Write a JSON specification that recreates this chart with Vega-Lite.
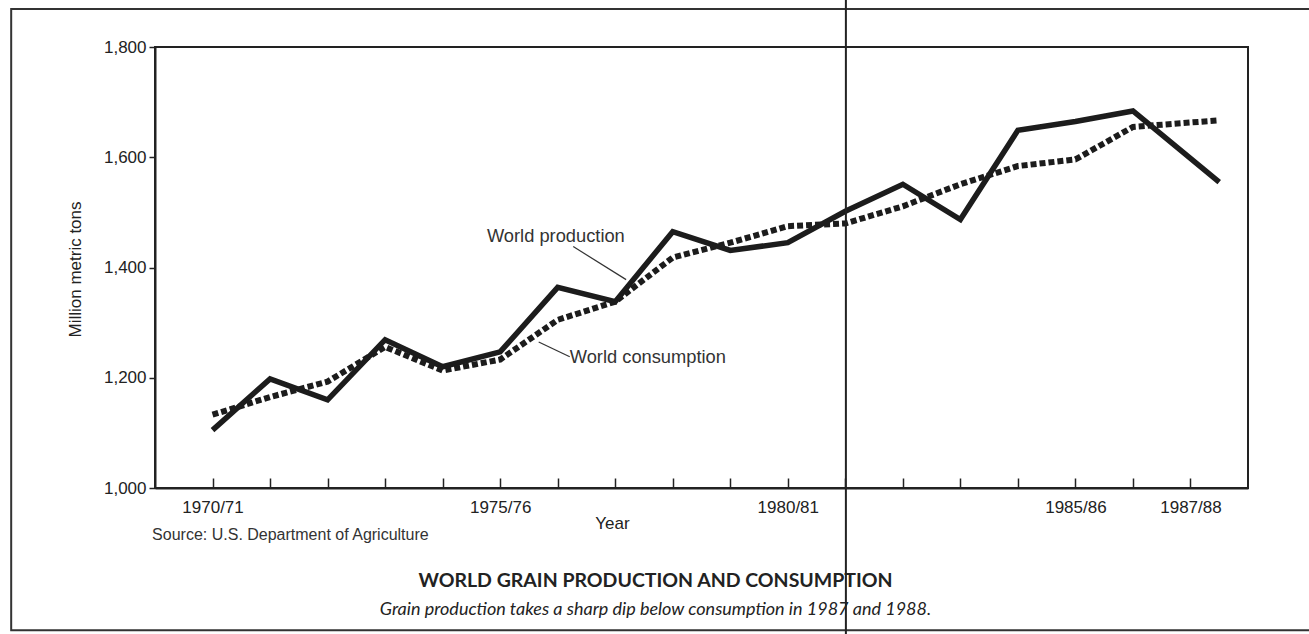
{
  "$schema": "https://vega.github.io/schema/vega-lite/v6.json",
  "width": 1093,
  "height": 441,
  "autosize": {"type": "none"},
  "padding": {"left": 155, "top": 47, "right": 61, "bottom": 146},
  "background": "white",
  "config": {
    "view": {"stroke": "#222", "strokeWidth": 2},
    "font": "Liberation Sans"
  },
  "title": {
    "text": "WORLD GRAIN PRODUCTION AND CONSUMPTION",
    "subtitle": "Grain production takes a sharp dip below consumption in 1987 and 1988.",
    "orient": "bottom",
    "anchor": "middle",
    "dx": -46,
    "offset": -63,
    "font": "Lato",
    "fontSize": 19.5,
    "fontWeight": "bold",
    "color": "#222",
    "subtitleFont": "Lato",
    "subtitleFontSize": 18,
    "subtitleFontStyle": "italic",
    "subtitleColor": "#222",
    "subtitlePadding": 9
  },
  "datasets": {
    "grain": [
      {"year": 1970, "value": 1105, "series": "World production"},
      {"year": 1971, "value": 1198, "series": "World production"},
      {"year": 1972, "value": 1160, "series": "World production"},
      {"year": 1973, "value": 1269, "series": "World production"},
      {"year": 1974, "value": 1220, "series": "World production"},
      {"year": 1975, "value": 1247, "series": "World production"},
      {"year": 1976, "value": 1364, "series": "World production"},
      {"year": 1977, "value": 1338, "series": "World production"},
      {"year": 1978, "value": 1465, "series": "World production"},
      {"year": 1979, "value": 1431, "series": "World production"},
      {"year": 1980, "value": 1445, "series": "World production"},
      {"year": 1981, "value": 1502, "series": "World production"},
      {"year": 1982, "value": 1551, "series": "World production"},
      {"year": 1983, "value": 1487, "series": "World production"},
      {"year": 1984, "value": 1649, "series": "World production"},
      {"year": 1985, "value": 1665, "series": "World production"},
      {"year": 1986, "value": 1684, "series": "World production"},
      {"year": 1987.5, "value": 1555, "series": "World production"},
      {"year": 1970, "value": 1133, "series": "World consumption"},
      {"year": 1971, "value": 1165, "series": "World consumption"},
      {"year": 1972, "value": 1193, "series": "World consumption"},
      {"year": 1973, "value": 1256, "series": "World consumption"},
      {"year": 1974, "value": 1213, "series": "World consumption"},
      {"year": 1975, "value": 1233, "series": "World consumption"},
      {"year": 1976, "value": 1305, "series": "World consumption"},
      {"year": 1977, "value": 1338, "series": "World consumption"},
      {"year": 1978, "value": 1418, "series": "World consumption"},
      {"year": 1979, "value": 1445, "series": "World consumption"},
      {"year": 1980, "value": 1475, "series": "World consumption"},
      {"year": 1981, "value": 1480, "series": "World consumption"},
      {"year": 1982, "value": 1511, "series": "World consumption"},
      {"year": 1983, "value": 1551, "series": "World consumption"},
      {"year": 1984, "value": 1584, "series": "World consumption"},
      {"year": 1985, "value": 1596, "series": "World consumption"},
      {"year": 1986, "value": 1655, "series": "World consumption"},
      {"year": 1987.5, "value": 1667, "series": "World consumption"}
    ],
    "one": [{"n": 1}]
  },
  "layer": [
    {
      "data": {"name": "grain"},
      "transform": [{"filter": "datum.series === 'World production'"}],
      "mark": {"type": "line", "color": "#1c1c1c", "strokeWidth": 5.5, "strokeJoin": "miter", "strokeCap": "butt"},
      "encoding": {
        "x": {
          "field": "year",
          "type": "quantitative",
          "scale": {"domain": [1969, 1988], "nice": false, "zero": false},
          "axis": {
            "values": [1970, 1971, 1972, 1973, 1974, 1975, 1976, 1977, 1978, 1979, 1980, 1981, 1982, 1983, 1984, 1985, 1986, 1987],
            "labelExpr": "indexof([1970, 1975, 1980, 1985, 1987], datum.value) >= 0 ? toString(datum.value) + '/' + slice(toString(datum.value + 1), 2) : ''",
            "grid": false,
            "tickSize": -10,
            "tickColor": "#222",
            "tickWidth": 1.5,
            "domainColor": "#222",
            "domainWidth": 2,
            "labelFontSize": 17,
            "labelColor": "#222",
            "labelPadding": 21,
            "labelFlush": false,
            "labelOverlap": false,
            "title": "Year",
            "titleFontSize": 17,
            "titleFontWeight": "normal",
            "titleColor": "#222",
            "titleX": 457,
            "titleY": 35,
            "titleAlign": "center",
            "titleBaseline": "middle"
          }
        },
        "y": {
          "field": "value",
          "type": "quantitative",
          "scale": {"domain": [1000, 1800], "nice": false, "zero": false},
          "axis": {
            "values": [1000, 1200, 1400, 1600, 1800],
            "format": ",d",
            "grid": false,
            "tickSize": 6,
            "tickColor": "#222",
            "tickWidth": 1.5,
            "domainColor": "#222",
            "domainWidth": 2,
            "labelFontSize": 17,
            "labelColor": "#222",
            "labelPadding": 3,
            "title": "Million metric tons",
            "titleFontSize": 17,
            "titleFontWeight": "normal",
            "titleColor": "#222",
            "titleX": -80,
            "titleY": 222,
            "titleAlign": "center",
            "titleBaseline": "middle"
          }
        }
      }
    },
    {
      "data": {"name": "grain"},
      "transform": [{"filter": "datum.series === 'World consumption'"}],
      "mark": {"type": "line", "color": "#1c1c1c", "strokeWidth": 6, "strokeDash": [6, 3], "strokeCap": "butt"},
      "encoding": {
        "x": {"field": "year", "type": "quantitative"},
        "y": {"field": "value", "type": "quantitative"}
      }
    },
    {
      "data": {"name": "one"},
      "mark": {"type": "text", "align": "left", "baseline": "middle", "fontSize": 18.3, "color": "#333", "font": "Liberation Sans"},
      "encoding": {
        "x": {"datum": 1974.77, "type": "quantitative"},
        "y": {"datum": 1456, "type": "quantitative"},
        "text": {"value": "World production"}
      }
    },
    {
      "data": {"name": "one"},
      "mark": {"type": "text", "align": "left", "baseline": "middle", "fontSize": 18.3, "color": "#333", "font": "Liberation Sans"},
      "encoding": {
        "x": {"datum": 1976.21, "type": "quantitative"},
        "y": {"datum": 1236, "type": "quantitative"},
        "text": {"value": "World consumption"}
      }
    },
    {
      "data": {"name": "one"},
      "mark": {"type": "rule", "color": "#333", "strokeWidth": 1.2},
      "encoding": {
        "x": {"datum": 1976.27, "type": "quantitative"},
        "x2": {"datum": 1977.19},
        "y": {"datum": 1438, "type": "quantitative"},
        "y2": {"datum": 1378}
      }
    },
    {
      "data": {"name": "one"},
      "mark": {"type": "rule", "color": "#333", "strokeWidth": 1.2},
      "encoding": {
        "x": {"datum": 1975.67, "type": "quantitative"},
        "x2": {"datum": 1976.21},
        "y": {"datum": 1265, "type": "quantitative"},
        "y2": {"datum": 1238}
      }
    },
    {
      "data": {"name": "one"},
      "mark": {"type": "text", "align": "left", "baseline": "middle", "fontSize": 16, "color": "#333", "font": "Liberation Sans"},
      "encoding": {
        "x": {"datum": 1968.95, "type": "quantitative"},
        "y": {"datum": 915, "type": "quantitative"},
        "text": {"value": "Source: U.S. Department of Agriculture"}
      }
    },
    {
      "data": {"name": "one"},
      "mark": {"type": "rect", "filled": false, "stroke": "#333", "strokeWidth": 2},
      "encoding": {
        "x": {"datum": 1966.5, "type": "quantitative"},
        "x2": {"datum": 1989.2},
        "y": {"datum": 1869, "type": "quantitative"},
        "y2": {"datum": 742}
      }
    },
    {
      "data": {"name": "one"},
      "mark": {"type": "rule", "color": "#222", "strokeWidth": 2},
      "encoding": {
        "x": {"datum": 1981.01, "type": "quantitative"},
        "y": {"datum": 1900, "type": "quantitative"},
        "y2": {"datum": 735}
      }
    }
  ]
}
